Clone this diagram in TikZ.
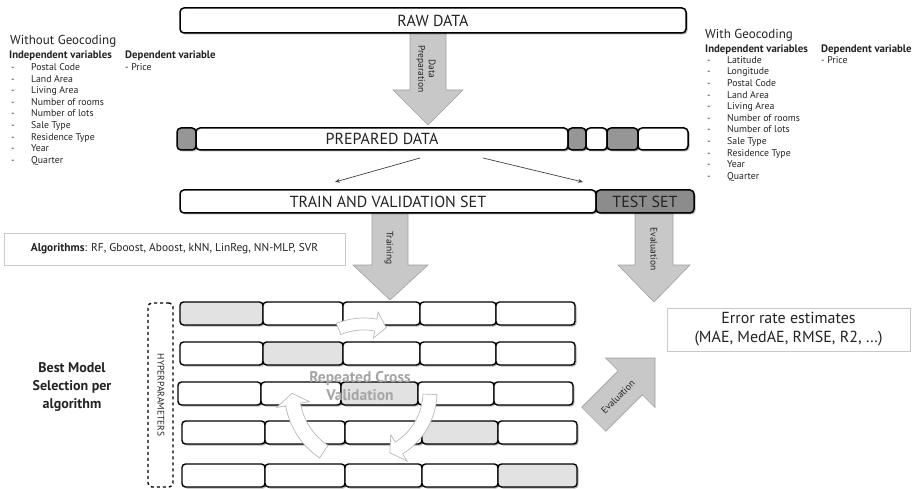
\documentclass[tikz,border=0pt]{standalone}
\usepackage{fontspec}
\setmainfont{PT Sans}
\usetikzlibrary{calc,shadows,arrows.meta}
\definecolor{txt}{RGB}{35,35,35}
\definecolor{seg}{RGB}{150,150,150}
\definecolor{testg}{RGB}{140,140,140}
\definecolor{cellg}{RGB}{226,226,226}
\definecolor{arrg}{RGB}{200,200,200}
\definecolor{arre}{RGB}{160,160,160}
\definecolor{lbox}{RGB}{200,200,200}
\definecolor{cvtxt}{RGB}{165,165,165}
\definecolor{cvline}{RGB}{185,185,185}
\newcommand\fatarc[7]{%
  \pgfmathsetmacro\faro{#3+#6}\pgfmathsetmacro\fari{#3-#6}%
  \pgfmathsetmacro\farho{#3+2.2*#6}\pgfmathsetmacro\farhi{#3-2.2*#6}%
  \pgfmathsetmacro\faat{#5+#7}%
  \draw[cvarrow] ($(#1,#2)+(#4:\faro)$) arc[start angle=#4,end angle=#5,radius=\faro]
    -- ($(#1,#2)+(#5:\farho)$) -- ($(#1,#2)+(\faat:#3)$) -- ($(#1,#2)+(#5:\farhi)$)
    -- ($(#1,#2)+(#5:\fari)$) arc[start angle=#5,end angle=#4,radius=\fari] -- cycle;}
\begin{document}
\begin{tikzpicture}[x=1pt,y=-1pt,text=txt,
  shad/.style={drop shadow={shadow xshift=1.5pt,shadow yshift=-1.5pt,opacity=0.3,fill=black}},
  mainbox/.style={draw=black,line width=1.5pt,rounded corners=4pt,fill=white,inner sep=0pt,shad,
    font=\fontsize{16}{19}\selectfont},
  cell/.style={draw=black,line width=1.4pt,rounded corners=3.5pt,inner sep=0pt,minimum height=23pt,shad},
  lightbox/.style={draw=lbox,line width=0.8pt,fill=white,inner sep=0pt},
  blockarrow/.style={fill=arrg,draw=arre,line width=0.6pt},
  cvarrow/.style={fill=white,draw=cvline,line width=0.7pt},
  arlabel/.style={font=\fontsize{9.5}{10.5}\selectfont,inner sep=0pt,align=center},
  thinarrow/.style={draw=black!75,line width=0.7pt,-{Stealth[length=5pt,width=4pt]}},
  head/.style={font=\fontsize{13}{15}\selectfont,anchor=base west,inner sep=0pt},
  subhead/.style={font=\bfseries\fontsize{10.8}{12}\selectfont,anchor=base west,inner sep=0pt},
  item/.style={font=\fontsize{9.8}{11}\selectfont,anchor=base west,inner sep=0pt}]
\useasboundingbox (0,0) rectangle (913,489);

% ---------- left variable list
\node[head] (wog) at (10,44.5) {Without Geocoding};
\node[subhead] (wogi) at (9,58.5) {Independent variables};
\node[subhead] (wogd) at (125,58.5) {Dependent variable};
\node[item] (wogp) at (125,70.5) {- Price};
\foreach [count=\i] \t in {Postal Code,Land Area,Living Area,Number of rooms,Number of lots,Sale Type,Residence Type,Year,Quarter}{
  \node[item] (wd\i) at (11,{58.9+11.6*\i}) {-};
  \node[item] (wt\i) at (31,{58.9+11.6*\i}) {\t};
}
% ---------- right variable list
\node[head] (wg) at (705,38.5) {With Geocoding};
\node[subhead] (wgi) at (705,52.5) {Independent variables};
\node[subhead] (wgd) at (821,52.5) {Dependent variable};
\node[item] (wgp) at (821,63.7) {- Price};
\foreach [count=\i] \t in {Latitude,Longitude,Postal Code,Land Area,Living Area,Number of rooms,Number of lots,Sale Type,Residence Type,Year,Quarter}{
  \node[item] (gd\i) at (707,{51.8+11.6*\i}) {-};
  \node[item] (gt\i) at (727,{51.8+11.6*\i}) {\t};
}

% ---------- block arrows (under boxes)
\draw[blockarrow] (410,30) -- (410,90) -- (393,90) -- (428,125) -- (463,90) -- (446,90) -- (446,30) -- cycle;
\node[arlabel,rotate=-90] (dprep) at (426,69) {Data\\Preparation};
\draw[blockarrow] (372,210) -- (372,265) -- (353,265) -- (390,300) -- (428,265) -- (408,265) -- (408,210) -- cycle;
\node[arlabel,rotate=-90] (trn) at (389,248) {Training};
\draw[blockarrow] (635,210) -- (635,265) -- (618,265) -- (654,302) -- (690,265) -- (673,265) -- (673,210) -- cycle;
\node[arlabel,rotate=-90] (evd) at (654,249) {Evaluation};

% ---------- main boxes
\node[mainbox,minimum width=506pt,minimum height=25pt] (raw) at (433,20.5) {RAW DATA};
\node[mainbox,fill=seg,minimum width=19pt,minimum height=22pt] (p0) at (186.5,139) {};
\node[mainbox,minimum width=372pt,minimum height=22pt] (p1) at (382,139) {PREPARED DATA};
\node[mainbox,fill=seg,minimum width=18pt,minimum height=22pt] (p2) at (577,139) {};
\node[mainbox,minimum width=21pt,minimum height=22pt] (p3) at (596.5,139) {};
\node[mainbox,fill=seg,minimum width=31pt,minimum height=22pt] (p4) at (622.5,139) {};
\node[mainbox,minimum width=50pt,minimum height=22pt] (p5) at (663,139) {};

\coordinate (sa) at (420,158); \coordinate (sb) at (483,158);
\coordinate (ta) at (335,182); \coordinate (tb) at (583,182);
\draw[thinarrow] (sa) -- (ta);
\draw[thinarrow] (sb) -- (tb);

\node[mainbox,minimum width=416pt,minimum height=23pt] (train) at (388,201.5) {TRAIN AND VALIDATION SET};
\node[mainbox,fill=testg,minimum width=98pt,minimum height=23pt] (test) at (645,201.5) {TEST SET};

% ---------- algorithms box
\node[lightbox,minimum width=341pt,minimum height=32pt,font=\fontsize{11.4}{13}\selectfont] (algo) at (174.5,249)
  {\textbf{Algorithms}: RF, Gboost, Aboost, kNN, LinReg, NN-MLP, SVR};

% ---------- error rate box
\node[lightbox,minimum width=243pt,minimum height=43pt,align=center,font=\fontsize{16}{19}\selectfont] (err) at (788.5,329.5)
  {Error rate estimates\\(MAE, MedAE, RMSE, R2, \dots)};

% ---------- best model text and hyperparameters
\node[align=center,font=\bfseries\fontsize{14}{18}\selectfont,inner sep=0pt] (best) at (72,387)
  {Best Model\\Selection per\\algorithm};
\node[draw=black,dashed,line width=1.4pt,rounded corners=4pt,minimum width=25pt,minimum height=184pt,inner sep=0pt] (hyp) at (160.5,395) {};
\node[rotate=-90,font=\fontsize{9.5}{11}\selectfont,inner sep=0pt] (hypt) at (161,395) {HYPERPARAMETERS};

% ---------- cross validation grid
\foreach \r/\yc/\xo in {1/313.5/180,2/353.5/180,3/393.5/178,4/432.5/182,5/475.5/182}{
  \foreach \c/\a/\b in {1/0/83,2/83/163,3/163/240,4/240/316,5/316/395}{
    \ifnum\c=\r\def\fc{cellg}\else\def\fc{white}\fi
    \pgfmathsetmacro\cw{\b-\a}
    \node[cell,fill=\fc,minimum width=\cw pt] (c\r\c) at ({\xo+(\a+\b)/2},\yc) {};
  }
}

% ---------- cycle arrows
\fatarc{364}{392}{68}{248}{280}{6}{9}
\fatarc{364}{392}{66}{2}{58}{7}{9}
\fatarc{364}{392}{72}{124}{170}{7.5}{9}
\node[align=center,text=cvtxt,font=\bfseries\fontsize{15.5}{18}\selectfont,inner sep=0pt] (rcv) at (360,386)
  {Repeated Cross\\Validation};

% ---------- diagonal evaluation arrow
\draw[blockarrow] (581.7,407.2) -- (618.2,370.7) -- (605.5,358) -- (655,358) -- (655,407.5)
  -- (642.3,394.8) -- (605.8,431.3) -- cycle;
\node[arlabel,rotate=45] (evdiag) at (618,397) {Evaluation};
\end{tikzpicture}
\end{document}
